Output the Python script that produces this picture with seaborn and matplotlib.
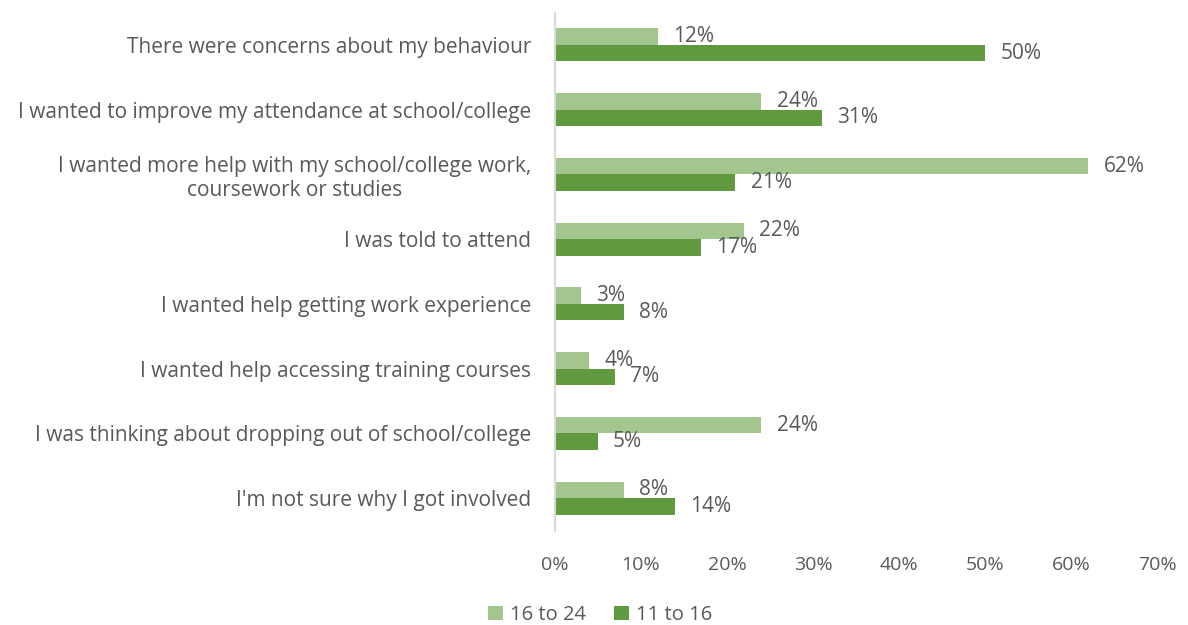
import matplotlib
matplotlib.use("Agg")
import matplotlib.pyplot as plt
import seaborn as sns
import pandas as pd
from matplotlib.ticker import FuncFormatter
from matplotlib.patches import Patch

reasons = [
    "There were concerns about my behaviour",
    "I wanted to improve my attendance at school/college",
    "I wanted more help with my school/college work,\ncoursework or studies",
    "I was told to attend",
    "I wanted help getting work experience",
    "I wanted help accessing training courses",
    "I was thinking about dropping out of school/college",
    "I'm not sure why I got involved",
]
age_groups = ["16 to 24", "11 to 16"]
pct_16_24 = [12, 24, 62, 22, 3, 4, 24, 8]
pct_11_16 = [50, 31, 21, 17, 8, 7, 5, 14]
x_ticks = [0, 10, 20, 30, 40, 50, 60, 70]

colors = {"16 to 24": "#A3C68F", "11 to 16": "#619A3E"}
text_grey = "#595959"

df = pd.DataFrame({
    "reason": reasons * 2,
    "group": [age_groups[0]] * len(reasons) + [age_groups[1]] * len(reasons),
    "pct": pct_16_24 + pct_11_16,
})

sns.set_theme(style="white")
plt.rcParams["font.family"] = ["Open Sans", "DejaVu Sans"]

fig = plt.figure(figsize=(11.88, 6.25), dpi=100)
ax = fig.add_axes([0.467, 0.151, 0.507, 0.829])

sns.barplot(
    data=df, y="reason", x="pct", hue="group", order=reasons,
    hue_order=age_groups, palette=colors, orient="h", width=0.51,
    saturation=1, linewidth=0, ax=ax, legend=False,
)

for container in ax.containers:
    ax.bar_label(container, labels=[f"{v:.0f}%" for v in container.datavalues],
                 padding=11, fontsize=15, color=text_grey)

ax.set_xlim(0, 70)
ax.set_xticks(x_ticks)
ax.xaxis.set_major_formatter(FuncFormatter(lambda v, _: f"{v:.0f}%"))
ax.set_xlabel("")
ax.set_ylabel("")
ax.tick_params(axis="x", length=0, labelsize=14, labelcolor=text_grey, pad=18)
ax.tick_params(axis="y", length=0, labelsize=15, labelcolor=text_grey, pad=17)
for lbl in ax.get_yticklabels():
    lbl.set_multialignment("center")

for side in ["top", "right", "bottom"]:
    ax.spines[side].set_visible(False)
ax.spines["left"].set_color("#D9D9D9")
ax.spines["left"].set_linewidth(1.5)

handles = [Patch(facecolor=colors[g], edgecolor="none", label=g) for g in age_groups]
fig.legend(handles=handles, loc="center", bbox_to_anchor=(0.505, 0.016),
           ncol=2, frameon=False, fontsize=14.5, handlelength=0.75, handleheight=0.75,
           handletextpad=0.35, columnspacing=1.4, labelcolor=text_grey)

fig.savefig("out.png", dpi=100)
